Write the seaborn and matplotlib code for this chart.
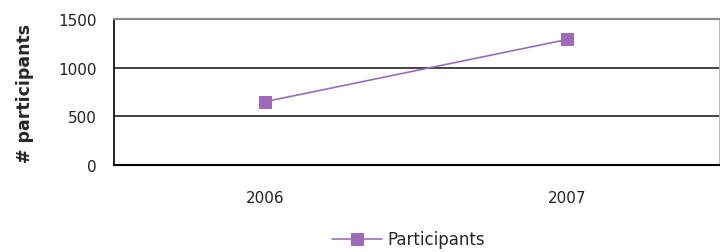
import matplotlib
matplotlib.use("Agg")
import matplotlib.pyplot as plt
import seaborn as sns
import pandas as pd

years = ["2006", "2007"]
participants = [650, 1290]
series_name = "Participants"

sns.set_style("white")
plt.rcParams['font.family'] = ['DejaVu Sans']

df = pd.DataFrame({"year": range(len(years)), "participants": participants})

fig = plt.figure(figsize=(7.2, 2.53), dpi=100)
ax = fig.add_axes([0.158, 0.344, 0.84, 0.577])

purple = "#9E6BB8"
sns.lineplot(data=df, x="year", y="participants", ax=ax, color=purple,
             marker="s", markersize=9, markeredgecolor=purple, linewidth=1.2,
             label=series_name)

ax.set_ylim(0, 1500)
ax.set_yticks([0, 500, 1000, 1500])
ax.set_yticklabels(["0", "500", "1000", "1500"], fontsize=11, color="#222222")
for y in [500, 1000]:
    ax.axhline(y, color="#222222", lw=1.2, zorder=0)

ax.set_xlim(-0.5, 1.5)
ax.set_xticks([-0.5, 0.5, 1.5])
ax.set_xticklabels([])
ax.set_xticks(range(len(years)), minor=True)
ax.set_xticklabels(years, minor=True, fontsize=11, color="#222222")
ax.tick_params(axis="x", which="major", length=8, width=1, color="black", direction="out")
ax.tick_params(axis="x", which="minor", length=0, pad=18)
ax.tick_params(axis="y", length=6, width=1, color="black", direction="out", pad=6)

ax.set_xlabel("")
ax.set_ylabel("# participants", fontsize=12.5, fontweight="bold", labelpad=18)

ax.spines["left"].set_color("black")
ax.spines["bottom"].set_color("black")
ax.spines["left"].set_linewidth(1.2)
ax.spines["bottom"].set_linewidth(1.5)
ax.spines["top"].set_color("#888888")
ax.spines["top"].set_linewidth(1.5)
ax.spines["right"].set_color("#bbbbbb")

leg = ax.legend(loc="center", bbox_to_anchor=(0.487, -0.51), frameon=False,
                fontsize=12, handlelength=3.0, handletextpad=0.3)

fig.savefig("out.png", dpi=100)
